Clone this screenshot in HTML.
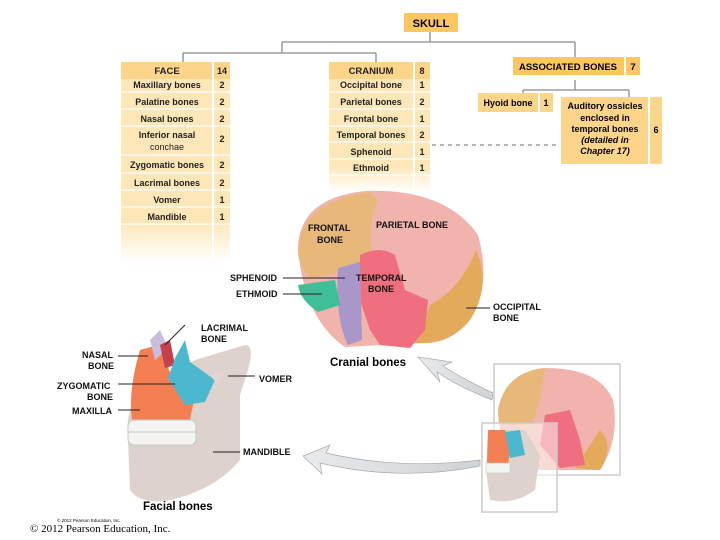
<!DOCTYPE html>
<html><head><meta charset="utf-8"><style>
body{margin:0;background:#fff;}
svg{display:block;font-family:"Liberation Sans",Arial,sans-serif;font-weight:bold;}
</style></head><body>
<svg width="720" height="540" viewBox="0 0 720 540" xmlns="http://www.w3.org/2000/svg">
<defs>
<linearGradient id="fadeF" x1="0" y1="0" x2="0" y2="1"><stop offset="0" stop-color="#fde7b8"/><stop offset="0.8" stop-color="#fde7b8"/><stop offset="1" stop-color="#fff"/></linearGradient>
<linearGradient id="arr" x1="0" y1="0" x2="1" y2="0"><stop offset="0" stop-color="#e8eaec"/><stop offset="1" stop-color="#cfd3d6"/></linearGradient>
</defs>
<g stroke="#8a8a8a" stroke-width="1.3" fill="none">
<path d="M430 32V42M282 42H575M282 42V53M183 53H376M183 53V62M376 53V62M575 42V64M575 80V90M523 90H629M523 90V100M629 90V102"/>
<path d="M432 145H558" stroke-dasharray="4,4"/>
</g>
<rect x="404" y="13" width="54" height="19" fill="#fcc761"/>
<text x="431" y="27" font-size="11" text-anchor="middle">SKULL</text>
<rect x="121" y="62" width="91" height="200" fill="url(#fadeF)"/>
<rect x="214" y="62" width="16" height="200" fill="url(#fadeF)"/>
<rect x="121" y="62" width="91" height="17" fill="#fcd58a"/>
<rect x="214" y="62" width="16" height="17" fill="#fcd58a"/>
<g stroke="#fff" stroke-width="1.2"><path d="M121 92H230M121 109H230M121 126H230M121 155H230M121 173H230M121 190H230M121 207H230M121 224H230"/></g>
<g font-size="9" fill="#222" text-anchor="middle">
<text x="167" y="74" font-size="9.5">FACE</text><text x="222" y="74">14</text>
<text x="167" y="88">Maxillary bones</text><text x="222" y="88">2</text>
<text x="167" y="105">Palatine bones</text><text x="222" y="105">2</text>
<text x="167" y="122">Nasal bones</text><text x="222" y="122">2</text>
<text x="167" y="138">Inferior nasal</text><text x="167" y="150" font-weight="normal">conchae</text><text x="222" y="142">2</text>
<text x="167" y="168">Zygomatic bones</text><text x="222" y="168">2</text>
<text x="167" y="186">Lacrimal bones</text><text x="222" y="186">2</text>
<text x="167" y="203">Vomer</text><text x="222" y="203">1</text>
<text x="167" y="220">Mandible</text><text x="222" y="220">1</text>
</g>
<rect x="329" y="62" width="84" height="130" fill="url(#fadeF)"/>
<rect x="415" y="62" width="15" height="130" fill="url(#fadeF)"/>
<rect x="329" y="62" width="84" height="17" fill="#fcd58a"/>
<rect x="415" y="62" width="15" height="17" fill="#fcd58a"/>
<g stroke="#fff" stroke-width="1.2"><path d="M329 92H430M329 109H430M329 126H430M329 142H430M329 159H430M329 175H430"/></g>
<g font-size="9" fill="#222" text-anchor="middle">
<text x="371" y="74" font-size="9.5">CRANIUM</text><text x="422" y="74">8</text>
<text x="371" y="88">Occipital bone</text><text x="422" y="88">1</text>
<text x="371" y="105">Parietal bones</text><text x="422" y="105">2</text>
<text x="371" y="122">Frontal bone</text><text x="422" y="122">1</text>
<text x="371" y="138">Temporal bones</text><text x="422" y="138">2</text>
<text x="371" y="155">Sphenoid</text><text x="422" y="155">1</text>
<text x="371" y="171">Ethmoid</text><text x="422" y="171">1</text>
</g>
<rect x="513" y="57" width="111" height="18" fill="#fcc761"/>
<rect x="626" y="57" width="14" height="18" fill="#fcc761"/>
<text x="568" y="70" font-size="9.5" text-anchor="middle">ASSOCIATED BONES</text><text x="633" y="70" font-size="9.5" text-anchor="middle">7</text>
<rect x="478" y="93" width="60" height="19" fill="#fcd58a"/>
<rect x="540" y="93" width="13" height="19" fill="#fcd58a"/>
<text x="508" y="106" font-size="9" text-anchor="middle">Hyoid bone</text><text x="546" y="106" font-size="9" text-anchor="middle">1</text>
<rect x="561" y="97" width="87" height="67" fill="#fcd58a"/>
<rect x="650" y="97" width="12" height="67" fill="#fcd58a"/>
<g font-size="9" text-anchor="middle"><text x="605" y="109">Auditory ossicles</text><text x="605" y="121">enclosed in</text><text x="605" y="132">temporal bones</text><text x="605" y="143" font-style="italic">(detailed in</text><text x="605" y="154" font-style="italic">Chapter 17)</text><text x="656" y="133">6</text></g>

<!-- Cranial skull -->
<path d="M298 250 Q298 198 365 191 Q445 188 478 235 Q492 285 470 320 Q450 345 420 343 L345 347 Q305 320 298 250Z" fill="#f0b4ad"/>
<path d="M298 250 Q300 203 368 192 L378 200 Q368 225 372 250 L360 270 L310 278 Q298 265 298 250Z" fill="#e8b77a"/>
<path d="M476 250 Q492 285 470 320 Q450 345 415 343 L430 305 Q460 290 476 250Z" fill="#e3aa5c"/>
<path d="M360 255 Q380 245 395 255 L405 290 L428 300 L425 330 L410 348 L380 345 L370 330 L360 300Z" fill="#ef6f7f"/>
<path d="M338 268 L360 262 L362 340 L348 345 Q335 320 338 268Z" fill="#a897c8"/>
<path d="M298 285 L335 280 L340 305 L318 312 Q300 300 298 285Z" fill="#3fbf98"/>
<g stroke="#222" stroke-width="1"><path d="M283 278H345M283 294H322M466 308H490"/></g>
<g font-size="9" fill="#111">
<text x="308" y="231">FRONTAL</text><text x="317" y="243">BONE</text>
<text x="376" y="228">PARIETAL BONE</text>
<text x="230" y="281">SPHENOID</text><text x="236" y="297">ETHMOID</text>
<text x="356" y="281">TEMPORAL</text><text x="368" y="292">BONE</text>
<text x="493" y="310">OCCIPITAL</text><text x="493" y="321">BONE</text>
</g>
<text x="330" y="366" font-size="11.5">Cranial bones</text>

<!-- Facial skull -->
<path d="M195 360 L245 345 Q255 345 248 370 L240 395 L240 460 Q215 490 170 500 Q140 505 130 490 L128 440 Q125 420 135 395Z" fill="#ddd3cc"/>
<path d="M140 350 L158 345 L170 372 L195 395 L190 420 L132 420 Q128 390 140 350Z" fill="#f47f52"/>
<path d="M150 340 L160 330 L168 348 L155 360Z" fill="#c6bedc"/>
<path d="M160 345 L170 340 L175 365 L165 368Z" fill="#c4404a"/>
<path d="M175 358 L185 340 L190 362 L215 380 L205 402 L185 405 L168 378Z" fill="#4bb8d0"/>
<path d="M210 375 L225 372 L218 385Z" fill="#e4d5d0"/>
<rect x="128" y="420" width="68" height="25" rx="6" fill="#f4f4f0" stroke="#bcc" stroke-width="1"/>
<path d="M128 432H196" stroke="#bcc"/>
<g stroke="#222" stroke-width="1"><path d="M118 356H148M118 384H175M118 410H140M228 376H255M213 452H240M165 345L185 325"/></g>
<g font-size="9" fill="#111">
<text x="201" y="331">LACRIMAL</text><text x="201" y="342">BONE</text>
<text x="82" y="358">NASAL</text><text x="88" y="369">BONE</text>
<text x="57" y="389">ZYGOMATIC</text><text x="87" y="400">BONE</text>
<text x="72" y="414">MAXILLA</text>
<text x="259" y="382">VOMER</text>
<text x="243" y="455">MANDIBLE</text>
</g>
<text x="143" y="510" font-size="11.5">Facial bones</text>
<text x="57" y="522" font-size="4.5" font-weight="normal">© 2012 Pearson Education, Inc.</text>
<text x="30" y="532" font-size="11" font-weight="normal" font-family="Liberation Serif,serif">© 2012 Pearson Education, Inc.</text>

<path d="M492 400 Q455 385 437 372 L440 382 L418 357 L452 362 L443 366 Q465 380 493 393Z" fill="url(#arr)" stroke="#aaa" stroke-width="0.7"/>
<path d="M480 466 Q400 482 320 463 L322 474 L303 456 L330 445 L326 453 Q400 470 480 460Z" fill="url(#arr)" stroke="#aaa" stroke-width="0.7"/>

<rect x="494" y="364" width="126" height="111" fill="#fff" stroke="#ccc" stroke-width="1.5"/>
<path d="M498 410 Q505 372 545 368 Q600 368 613 400 Q620 440 600 470 L530 470 Q498 450 498 410Z" fill="#f0b4ad"/>
<path d="M498 410 Q505 372 545 368 L540 400 L532 425 L500 425Z" fill="#e8b77a"/>
<path d="M600 430 Q615 445 600 470 L575 468Z" fill="#e3aa5c"/>
<path d="M545 415 L570 410 L580 440 L585 465 L560 468 L540 445Z" fill="#ef6f7f"/>
<rect x="482" y="423" width="75" height="89" fill="#fff" fill-opacity="0.5" stroke="#ccc" stroke-width="1.5"/>
<path d="M488 430 L525 430 L540 455 L535 490 Q515 505 490 500 L486 470Z" fill="#ddd3cc"/>
<path d="M488 430 L505 430 L510 450 L508 465 L487 465Z" fill="#f47f52"/>
<path d="M505 432 L520 430 L525 455 L510 458Z" fill="#4bb8d0"/>
<rect x="486" y="463" width="24" height="10" fill="#f4f4f0" stroke="#bcc" stroke-width="0.6"/>
</svg>
</body></html>
